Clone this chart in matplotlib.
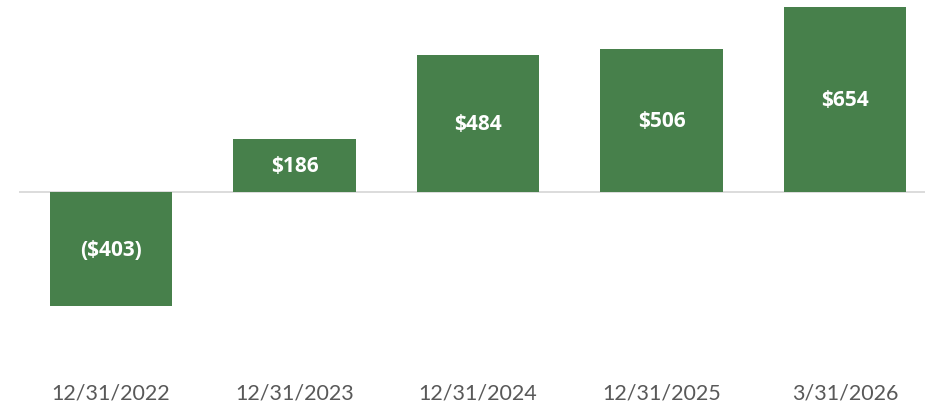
import matplotlib
matplotlib.use("Agg")
import matplotlib.pyplot as plt

# data
dates = ["12/31/2022", "12/31/2023", "12/31/2024", "12/31/2025", "3/31/2026"]
values = [-403, 186, 484, 506, 654]


def fmt(v):
    return "(${})".format(-v) if v < 0 else "${}".format(v)


def main():
    plt.rcParams['font.family'] = ['Lato', 'DejaVu Sans']
    W, H = 925, 404
    fig = plt.figure(figsize=(W / 100, H / 100), dpi=100)

    # axes: from x=19 px to right edge, from y=0 px down to y=370 px
    bottom_px = 370
    ax = fig.add_axes([19.25 / W, (H - bottom_px) / H, (W - 19.25) / W, bottom_px / H])

    px_per_unit = 0.283
    zero_px = 192
    ax.set_ylim(-(bottom_px - zero_px) / px_per_unit, zero_px / px_per_unit)
    ax.set_xlim(-0.5, -0.5 + (W - 19.25) / 183.5)

    x = range(len(values))
    bars = ax.bar(x, values, width=0.665, color="#47804B", zorder=2)
    ax.axhline(0, color="#D9D9D9", lw=1.3, zorder=1)

    for b, v in zip(bars, values):
        ax.text(b.get_x() + b.get_width() / 2, v / 2 - 4, fmt(v), ha="center", va="center",
                color="white", fontsize=15, fontweight="bold", family=["Open Sans", "DejaVu Sans"])

    ax.set_xticks(list(x))
    ax.set_xticklabels(dates, fontsize=15.5, color="#595959")
    ax.tick_params(axis="x", length=0, pad=10)
    ax.set_yticks([])
    for s in ax.spines.values():
        s.set_visible(False)

    fig.savefig("out.png", dpi=100)


if __name__ == "__main__":
    main()
